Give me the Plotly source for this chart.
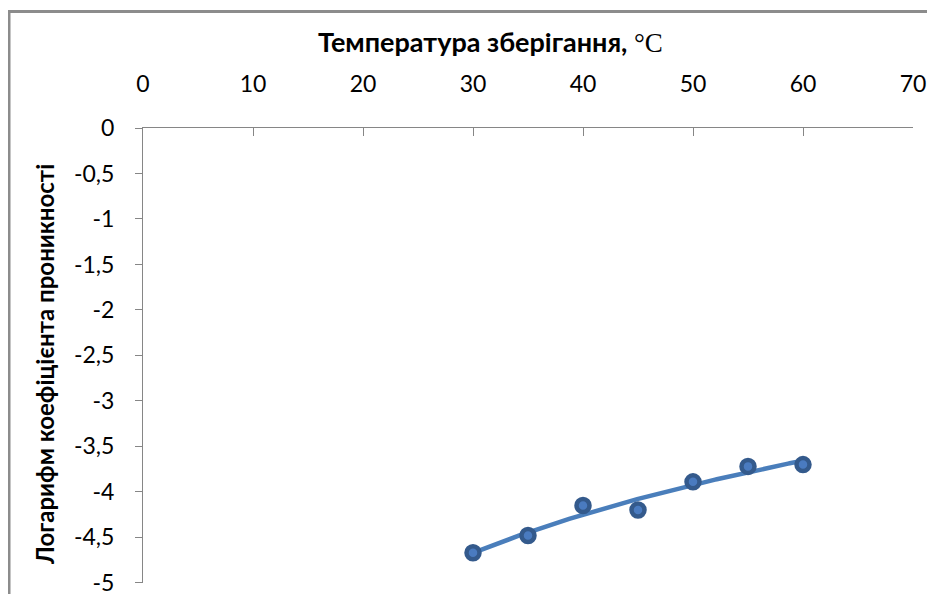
import numpy as np
import plotly.graph_objects as go

# Data
temperature = [30, 35, 40, 45, 50, 55, 60]
log_permeability = [-4.67, -4.48, -4.15, -4.20, -3.89, -3.72, -3.70]

x_tick_vals = [0, 10, 20, 30, 40, 50, 60, 70]
x_tick_text = ["0", "10", "20", "30", "40", "50", "60", "70"]
y_tick_vals = [0, -0.5, -1, -1.5, -2, -2.5, -3, -3.5, -4, -4.5, -5]
y_tick_text = ["0", "-0,5", "-1", "-1,5", "-2", "-2,5", "-3", "-3,5", "-4", "-4,5", "-5"]

x_title = "Температура зберігання, <span style='font-family:Liberation Serif;font-weight:normal'>°C</span>"
y_title = "Логарифм коефіцієнта проникності"

# Logarithmic trendline (least squares on ln x)
xa = np.array(temperature, dtype=float)
ya = np.array(log_permeability, dtype=float)
a, b = np.polyfit(np.log(xa), ya, 1)
xt = np.linspace(xa.min(), xa.max(), 200)
yt = a * np.log(xt) + b

FONT = "Lato"
AX = "#868686"

# page body has an 8px default margin: figure is sized/offset to compensate
W, H = 927, 586
L, R, T, B = 135, 22, 120, 11
pw = W - L - R
ph = H - T - B

def px_x(page_x):
    return (page_x - 8 - L) / pw

def px_y(page_y):
    return (H - B - (page_y - 8)) / ph

fig = go.Figure()
fig.add_trace(go.Scatter(
    x=xt, y=yt, mode="lines",
    line=dict(color="#4a7ebb", width=4.5),
    hoverinfo="skip", showlegend=False,
))
fig.add_trace(go.Scatter(
    x=temperature, y=log_permeability, mode="markers",
    marker=dict(size=13, color="#4a7bc0", line=dict(color="#345a8c", width=4.5)),
    showlegend=False,
))

fig.update_layout(
    width=W, height=H,
    margin=dict(l=L, r=R, t=T, b=B, autoexpand=False),
    paper_bgcolor="white", plot_bgcolor="white",
    font=dict(family=FONT, color="#000000"),
    xaxis=dict(
        side="top", range=[0, 70], automargin=False,
        tickmode="array", tickvals=x_tick_vals, ticktext=x_tick_text,
        ticks="inside", ticklen=8, tickcolor=AX, tickwidth=1,
        showline=True, linecolor=AX, linewidth=1,
        showgrid=False, zeroline=False,
        tickfont=dict(size=23, family=FONT, color="#000000"),
        ticklabelstandoff=26, ticklabeloverflow="allow",
    ),
    yaxis=dict(
        range=[-5.002, 0], automargin=False,
        tickmode="array", tickvals=y_tick_vals, ticktext=y_tick_text,
        ticks="outside", ticklen=7, tickcolor=AX, tickwidth=1,
        showline=True, linecolor=AX, linewidth=1,
        showgrid=False, zeroline=False,
        tickfont=dict(size=23, family=FONT, color="#000000"),
        ticklabelstandoff=16, ticklabeloverflow="allow",
    ),
    annotations=[
        dict(text=x_title, xref="paper", yref="paper",
             x=px_x(490), y=px_y(41), xanchor="center", yanchor="middle",
             showarrow=False, font=dict(size=27, family=FONT, color="#000000", weight="bold")),
        dict(text=y_title, xref="paper", yref="paper", textangle=-90,
             x=px_x(44), y=px_y(365), xanchor="center", yanchor="middle",
             showarrow=False, font=dict(size=24, family=FONT, color="#000000", weight="bold")),
    ],
    shapes=[dict(
        type="rect", xref="paper", yref="paper",
        x0=(1 - L) / pw, x1=1.2, y0=-0.3, y1=(H - B - 3.5) / ph,
        line=dict(color="#8c8c8c", width=3), fillcolor="rgba(0,0,0,0)", layer="below",
    )],
)

fig.write_html("out.html")
